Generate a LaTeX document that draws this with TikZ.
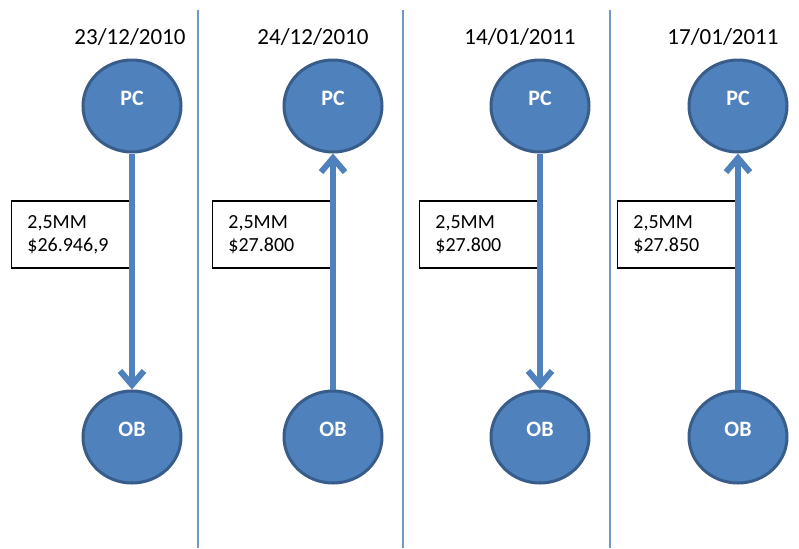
\documentclass[tikz,border=0pt]{standalone}
\usepackage{fontspec}
\setmainfont{Carlito}
\usetikzlibrary{arrows.meta,positioning,shapes.geometric}
\definecolor{DealBlue}{HTML}{4F81BD}
\definecolor{DealEdge}{HTML}{385D8A}
\definecolor{DealRule}{HTML}{6F97CB}
\tikzset{
  party/.style={ellipse, draw=DealEdge, fill=DealBlue, line width=1.5pt,
                minimum width=49pt, minimum height=46pt, inner sep=0pt,
                text=white, font=\fontsize{11}{13}\selectfont\bfseries},
  leg/.style={-{Straight Barb[length=7pt,width=12pt]}, line width=3pt, draw=DealBlue},
  amount/.style={draw=black, line width=0.6pt, fill=white, align=left, anchor=east,
                 text width=44pt, inner xsep=8pt, minimum height=33.5pt,
                 font=\fontsize{10}{11.5}\selectfont},
  date/.style={font=\fontsize{11.5}{13}\selectfont},
  rule/.style={draw=DealRule, line width=0.6pt},
}
\begin{document}
\begin{tikzpicture}[x=0.5pt,y=-0.5pt]
    \useasboundingbox (0,0) rectangle (799,548);
    \draw[rule] (198,10) -- (198,548);
    \draw[rule] (403,10) -- (403,548);
    \draw[rule] (610,10) -- (610,548);
    % 23/12/2010
    \node[date] (d1) at (130,37) {23/12/2010};
    \node[party] (pc1) at (132,106) {\raisebox{8pt}{PC}};
    \node[party,below=118pt of pc1] (ob1) {\raisebox{8pt}{OB}};
    \node[amount] (amt1) at (132,234.5) {2,5MM\\\$26.946,9};
    \draw[leg] (pc1) -- (ob1);
    % 24/12/2010
    \node[date] (d2) at (313,37) {24/12/2010};
    \node[party] (pc2) at (333,106) {\raisebox{8pt}{PC}};
    \node[party,below=118pt of pc2] (ob2) {\raisebox{8pt}{OB}};
    \node[amount] (amt2) at (333,234.5) {2,5MM\\\$27.800};
    \draw[leg] (ob2) -- (pc2);
    % 14/01/2011
    \node[date] (d3) at (520,37) {14/01/2011};
    \node[party] (pc3) at (540,106) {\raisebox{8pt}{PC}};
    \node[party,below=118pt of pc3] (ob3) {\raisebox{8pt}{OB}};
    \node[amount] (amt3) at (540,234.5) {2,5MM\\\$27.800};
    \draw[leg] (pc3) -- (ob3);
    % 17/01/2011
    \node[date] (d4) at (723,37) {17/01/2011};
    \node[party] (pc4) at (738,106) {\raisebox{8pt}{PC}};
    \node[party,below=118pt of pc4] (ob4) {\raisebox{8pt}{OB}};
    \node[amount] (amt4) at (738,234.5) {2,5MM\\\$27.850};
    \draw[leg] (ob4) -- (pc4);
  \end{tikzpicture}
\end{document}
